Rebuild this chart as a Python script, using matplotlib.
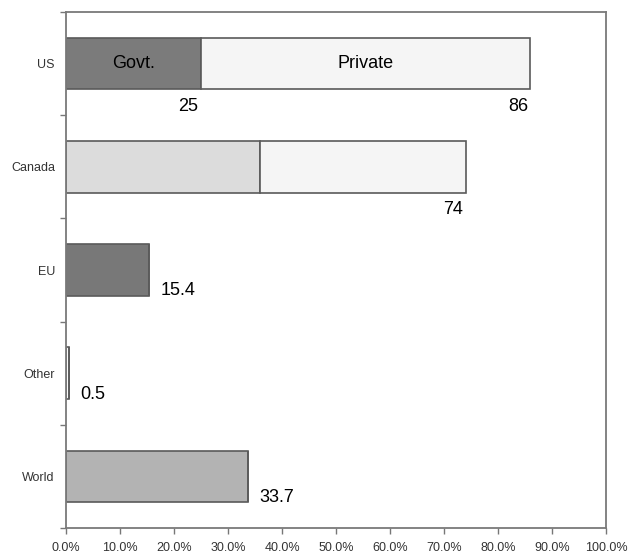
import matplotlib
matplotlib.use("Agg")
import matplotlib.pyplot as plt

# data
regions = ["US", "Canada", "EU", "Other", "World"]
first_part = [25, 36, 15.4, 0.5, 33.7]
second_part = [61, 38, 0, 0, 0]
shown_values = ["25|86", "74", "15.4", "0.5", "33.7"]
x_ticks = [0, 10, 20, 30, 40, 50, 60, 70, 80, 90, 100]

first_colors = ["#7b7b7b", "#dcdcdc", "#787878", "#fafafa", "#b3b3b3"]
second_color = "#f5f5f5"
edge = "#5a5a5a"

plt.rcParams["font.family"] = ["Liberation Sans", "DejaVu Sans"]

fig = plt.figure(figsize=(6.3, 5.53), dpi=100)
ax = fig.add_axes([0.1048, 0.0452, 0.8571, 0.9331])

pos = list(range(len(regions)))
ax.barh(pos, first_part, height=0.5, color=first_colors, edgecolor=edge, linewidth=1.2)
ax.barh(pos, second_part, left=first_part, height=0.5, color=second_color,
        edgecolor=edge, linewidth=1.2)

# labels inside the US bar
ax.text(first_part[0] / 2, 0, "Govt.", ha="center", va="center", fontsize=13)
ax.text(first_part[0] + second_part[0] / 2, 0, "Private", ha="center", va="center", fontsize=13)

# value labels
for i, lab in enumerate(shown_values):
    if second_part[i] > 0:
        ends = [first_part[i], first_part[i] + second_part[i]]
        parts = lab.split("|")
        if len(parts) == 1:
            ends = ends[1:]
        for e, t in zip(ends, parts):
            ax.annotate(t, (e, i), xytext=(-9, -31), textcoords="offset points",
                        ha="center", va="center", fontsize=13)
    else:
        ax.annotate(lab, (first_part[i], i), xytext=(8, -15), textcoords="offset points",
                    ha="left", va="center", fontsize=13)

ax.set_xlim(0, 100)
ax.set_ylim(len(regions) - 0.5, -0.5)
ax.set_xticks(x_ticks)
ax.set_xticklabels(["%.1f%%" % v for v in x_ticks], fontsize=9, color="#333333")
ax.set_yticks(pos)
ax.set_yticklabels(regions, fontsize=9, color="#333333")
ax.set_yticks([p + 0.5 for p in pos[:-1]] + [-0.5, len(regions) - 0.5], minor=True)
ax.tick_params(axis="y", which="major", length=0, pad=8)
ax.tick_params(axis="y", which="minor", length=4, color="#777777", width=1)
ax.tick_params(axis="x", length=4, color="#777777", width=1, pad=6)

for s in ax.spines.values():
    s.set_color("#7a7a7a")
    s.set_linewidth(1.3)

fig.savefig("out.png", dpi=100)
